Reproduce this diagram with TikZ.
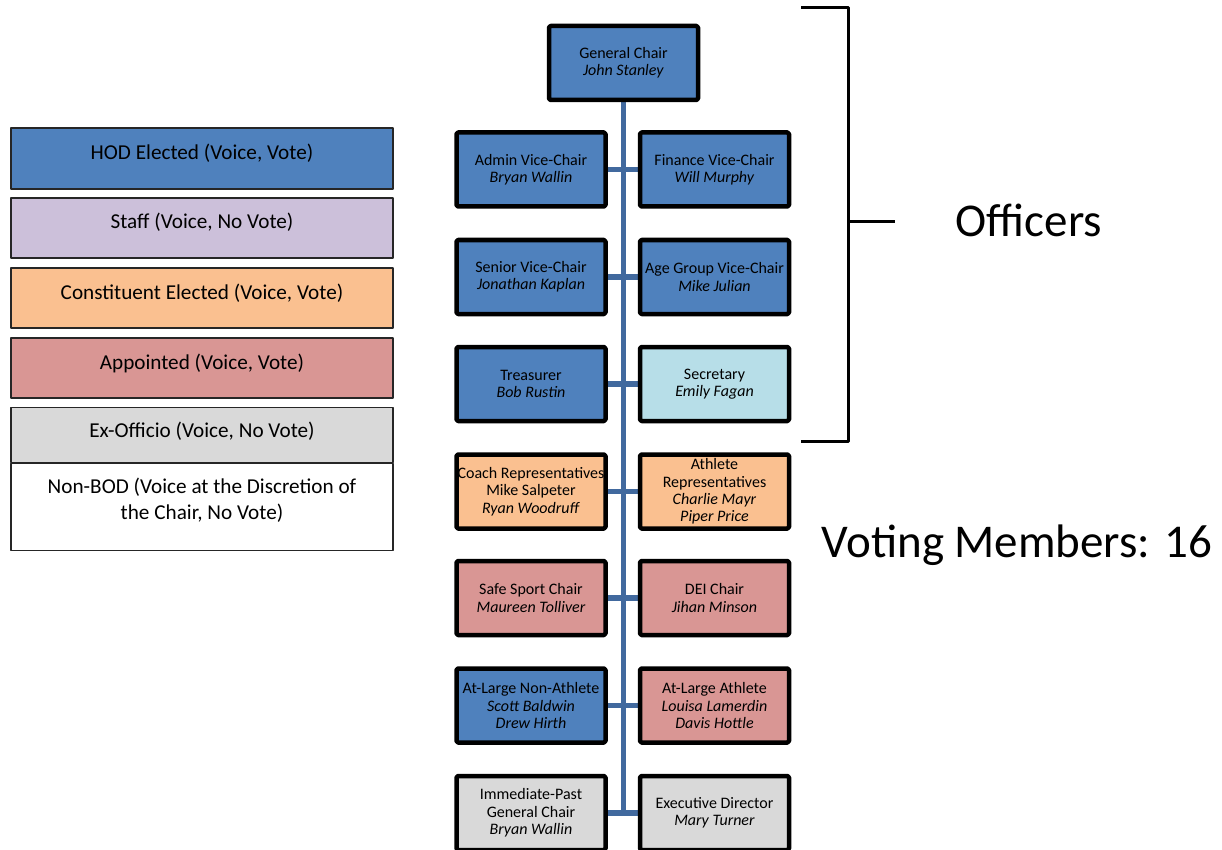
\documentclass[tikz,border=0pt]{standalone}
\usepackage{fontspec}
\setmainfont{Carlito}
\usetikzlibrary{backgrounds}
\definecolor{hodblue}{HTML}{4F81BD}
\definecolor{staffpurple}{HTML}{CCC0DA}
\definecolor{constorange}{HTML}{FAC090}
\definecolor{apptred}{HTML}{D99694}
\definecolor{exogray}{HTML}{D9D9D9}
\definecolor{seccyan}{HTML}{B7DEE8}
\definecolor{trunkblue}{HTML}{41699E}
\newcommand{\nm}[1]{\textit{#1}}
\begin{document}
\begin{tikzpicture}[x=1pt,y=-1pt,line join=round,
	seat/.style={draw=black,line width=4.5pt,rounded corners=1.5pt,minimum width=149pt,minimum height=74pt,inner sep=0pt,align=center,font=\fontsize{16}{17.3}\selectfont},
	legend/.style={draw=black!85,line width=1.8pt,minimum width=382pt,inner sep=0pt,align=center,text height=15pt,text depth=13pt,font=\fontsize{21.2}{25.6}\selectfont},
	trunk/.style={draw=trunkblue,line width=5.5pt},
	bracket/.style={draw=black,line width=3pt}]
	\useasboundingbox (0,0) rectangle (1222,850);
	\clip (0,0) rectangle (1222,850);
	% legend
	\node[legend,fill=hodblue,minimum height=61pt] (hod) at (202,158.5) {HOD Elected (Voice, Vote)};
	\node[legend,fill=staffpurple,minimum height=60pt] (staff) at (202,228) {Staff (Voice, No Vote)};
	\node[legend,fill=constorange,minimum height=60pt] (const) at (202,298) {Constituent Elected (Voice, Vote)};
	\node[legend,fill=apptred,minimum height=60pt] (appt) at (202,368) {Appointed (Voice, Vote)};
	\node[legend,fill=exogray,minimum height=55pt,text depth=10pt] (exo) at (202,435) {Ex-Officio (Voice, No Vote)};
	\node[legend,fill=white,minimum height=87pt,text height=40pt,text depth=16pt] (nonbod) at (202,507) {Non-BOD (Voice at the Discretion of\\the Chair, No Vote)};
	% chart
	\node[seat,fill=hodblue] (gc) at (623.5,63) {General Chair\\\nm{John Stanley}};
	\node[seat,fill=hodblue] (avc) at (531,169.5) {Admin Vice-Chair\\\nm{Bryan Wallin}};
	\node[seat,fill=hodblue] (fvc) at (714.5,169.5) {Finance Vice-Chair\\\nm{Will Murphy}};
	\node[seat,fill=hodblue] (svc) at (531,277) {Senior Vice-Chair\\\nm{Jonathan Kaplan}};
	\node[seat,fill=hodblue] (agvc) at (714.5,277) {Age Group Vice-Chair\\\nm{Mike Julian}};
	\node[seat,fill=hodblue] (tr) at (531,384) {Treasurer\\\nm{Bob Rustin}};
	\node[seat,fill=seccyan] (sec) at (714.5,384) {Secretary\\\nm{Emily Fagan}};
	\node[seat,fill=constorange] (coach) at (531,491.5) {Coach Representatives\\Mike Salpeter\\\nm{Ryan Woodruff}};
	\node[seat,fill=constorange] (ath) at (714.5,491.5) {Athlete\\Representatives\\\nm{Charlie Mayr}\\\nm{Piper Price}};
	\node[seat,fill=apptred] (ssc) at (531,598) {Safe Sport Chair\\\nm{Maureen Tolliver}};
	\node[seat,fill=apptred] (dei) at (714.5,598) {DEI Chair\\\nm{Jihan Minson}};
	\node[seat,fill=hodblue] (alna) at (531,705.5) {At-Large Non-Athlete\\\nm{Scott Baldwin}\\\nm{Drew Hirth}};
	\node[seat,fill=apptred] (ala) at (714.5,705.5) {At-Large Athlete\\\nm{Louisa Lamerdin}\\\nm{Davis Hottle}};
	\node[seat,fill=exogray] (ipgc) at (531,813) {Immediate-Past\\General Chair\\\nm{Bryan Wallin}};
	\node[seat,fill=exogray] (ed) at (714.5,813) {Executive Director\\\nm{Mary Turner}};
	\begin{scope}[on background layer]
		\draw[trunk] (gc.south) -- (gc.south |- ipgc.east);
		\foreach \l/\r in {avc/fvc,svc/agvc,tr/sec,coach/ath,ssc/dei,alna/ala,ipgc/ed}
		\draw[trunk] (\l.east) -- (\r.west);
	\end{scope}
	% officers bracket
	\coordinate (btop) at (801,8);
	\coordinate (bbot) at (801,441);
	\coordinate (btick) at (895,222);
	\draw[bracket] (btop) -- (848,8) -- (848,441) -- (bbot);
	\draw[bracket] (848,222) -- (btick);
	\node[font=\fontsize{47}{56}\selectfont] (off) at (1029,220) {Officers};
	\node[font=\fontsize{47}{56}\selectfont] (vote) at (1017,545) {Voting Members: 16};
\end{tikzpicture}
\end{document}
